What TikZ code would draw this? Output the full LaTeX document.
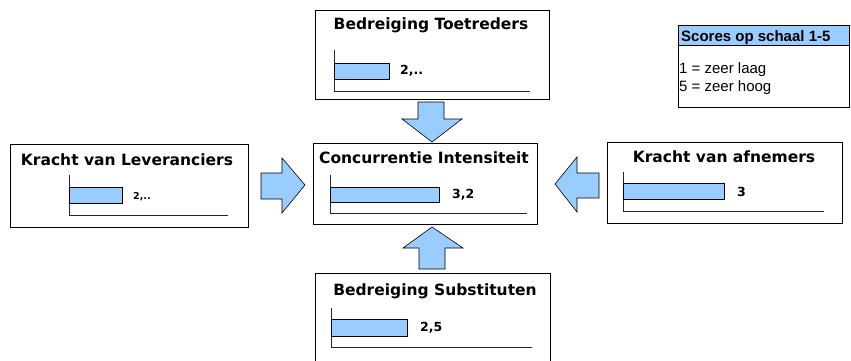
\documentclass[tikz,border=0pt]{standalone}
\usepackage{fontspec}
\setmainfont{DejaVu Sans}
\newfontfamily\legendfont{Liberation Sans}
\definecolor{barblue}{HTML}{99CCFF}
\begin{document}
\begin{tikzpicture}[x=1pt,y=-1pt,
  panel/.style={draw=black,line width=0.9pt,fill=white},
  paneltitle/.style={font=\bfseries\fontsize{15.5}{18}\selectfont,inner sep=0pt},
  bar/.style={draw=black,line width=0.8pt,fill=barblue},
  axis/.style={draw=black!85,line width=0.8pt},
  score/.style={font=\bfseries\fontsize{12.5}{14}\selectfont,inner sep=0pt,anchor=west},
  bigarrow/.style={draw=black,line width=0.6pt,fill=barblue,line join=miter}]
\useasboundingbox (0,0) rectangle (851,360);

% --- panels ---
\draw[panel] (315,10) rectangle (549,99);
\node[paneltitle] (Ttitle) at (431,25) {Bedreiging Toetreders};
\draw[panel] (313,143) rectangle (537,224);
\node[paneltitle] (Ctitle) at (424,158) {Concurrentie Intensiteit};
\draw[panel] (10,144) rectangle (248,227);
\node[paneltitle] (Ltitle) at (127,160) {Kracht van Leveranciers};
\draw[panel] (607,142) rectangle (842,223);
\node[paneltitle] (Rtitle) at (724,157) {Kracht van afnemers};
\draw[panel] (315,273) rectangle (550,372);
\node[paneltitle] (Btitle) at (435,291) {Bedreiging Substituten};

% --- bar charts ---
% top
\draw[axis] (334,50) -- (334,91) -- (530,91);
\draw[bar] (334,63) rectangle (389,79);
\node[score] (Tval) at (400,71) {2,..};
% centre
\draw[axis] (330,175) -- (330,213) -- (527,213);
\draw[bar] (330,187) rectangle (439,202);
\node[score] (Cval) at (452,195) {3,2};
% left
\draw[axis] (69,175) -- (69,215) -- (228,215);
\draw[bar] (69,187) rectangle (122,203);
\node[score,font=\bfseries\fontsize{9.5}{11}\selectfont] (Lval) at (133,197) {2,..};
% right
\draw[axis] (623,172) -- (623,211) -- (824,211);
\draw[bar] (623,183) rectangle (724,199);
\node[score] (Rval) at (737,192) {3};
% bottom
\draw[axis] (331,308) -- (331,347) -- (532,347);
\draw[bar] (331,319) rectangle (407,336);
\node[score] (Bval) at (420,328) {2,5};

% --- block arrows towards the centre ---
\draw[bigarrow] (418,102) -- (444,102) -- (444,119) -- (462,119) -- (432,142)
  -- (402,119) -- (418,119) -- cycle;
\draw[bigarrow] (419,269) -- (445,269) -- (445,248) -- (463,248) -- (432,227)
  -- (403,248) -- (419,248) -- cycle;
\draw[bigarrow] (261,173) -- (282,173) -- (282,158) -- (305,185) -- (282,213)
  -- (282,199) -- (261,199) -- cycle;
\draw[bigarrow] (599,173) -- (577,173) -- (577,157) -- (555,184) -- (577,212)
  -- (577,198) -- (599,198) -- cycle;

% --- legend ---
\draw[line width=0.9pt,fill=barblue] (678,25) rectangle (849,45);
\draw[line width=0.9pt] (678,45) rectangle (849,107);
\node[font=\legendfont\bfseries\fontsize{15}{17}\selectfont,anchor=base west,inner sep=0pt]
  (legtitle) at (681,41) {Scores op schaal 1-5};
\node[font=\legendfont\fontsize{15}{18}\selectfont,anchor=base west,inner sep=0pt]
  (legline1) at (679,73) {1 = zeer laag};
\node[font=\legendfont\fontsize{15}{18}\selectfont,anchor=base west,inner sep=0pt]
  (legline2) at (679,91) {5 = zeer hoog};
\end{tikzpicture}
\end{document}
